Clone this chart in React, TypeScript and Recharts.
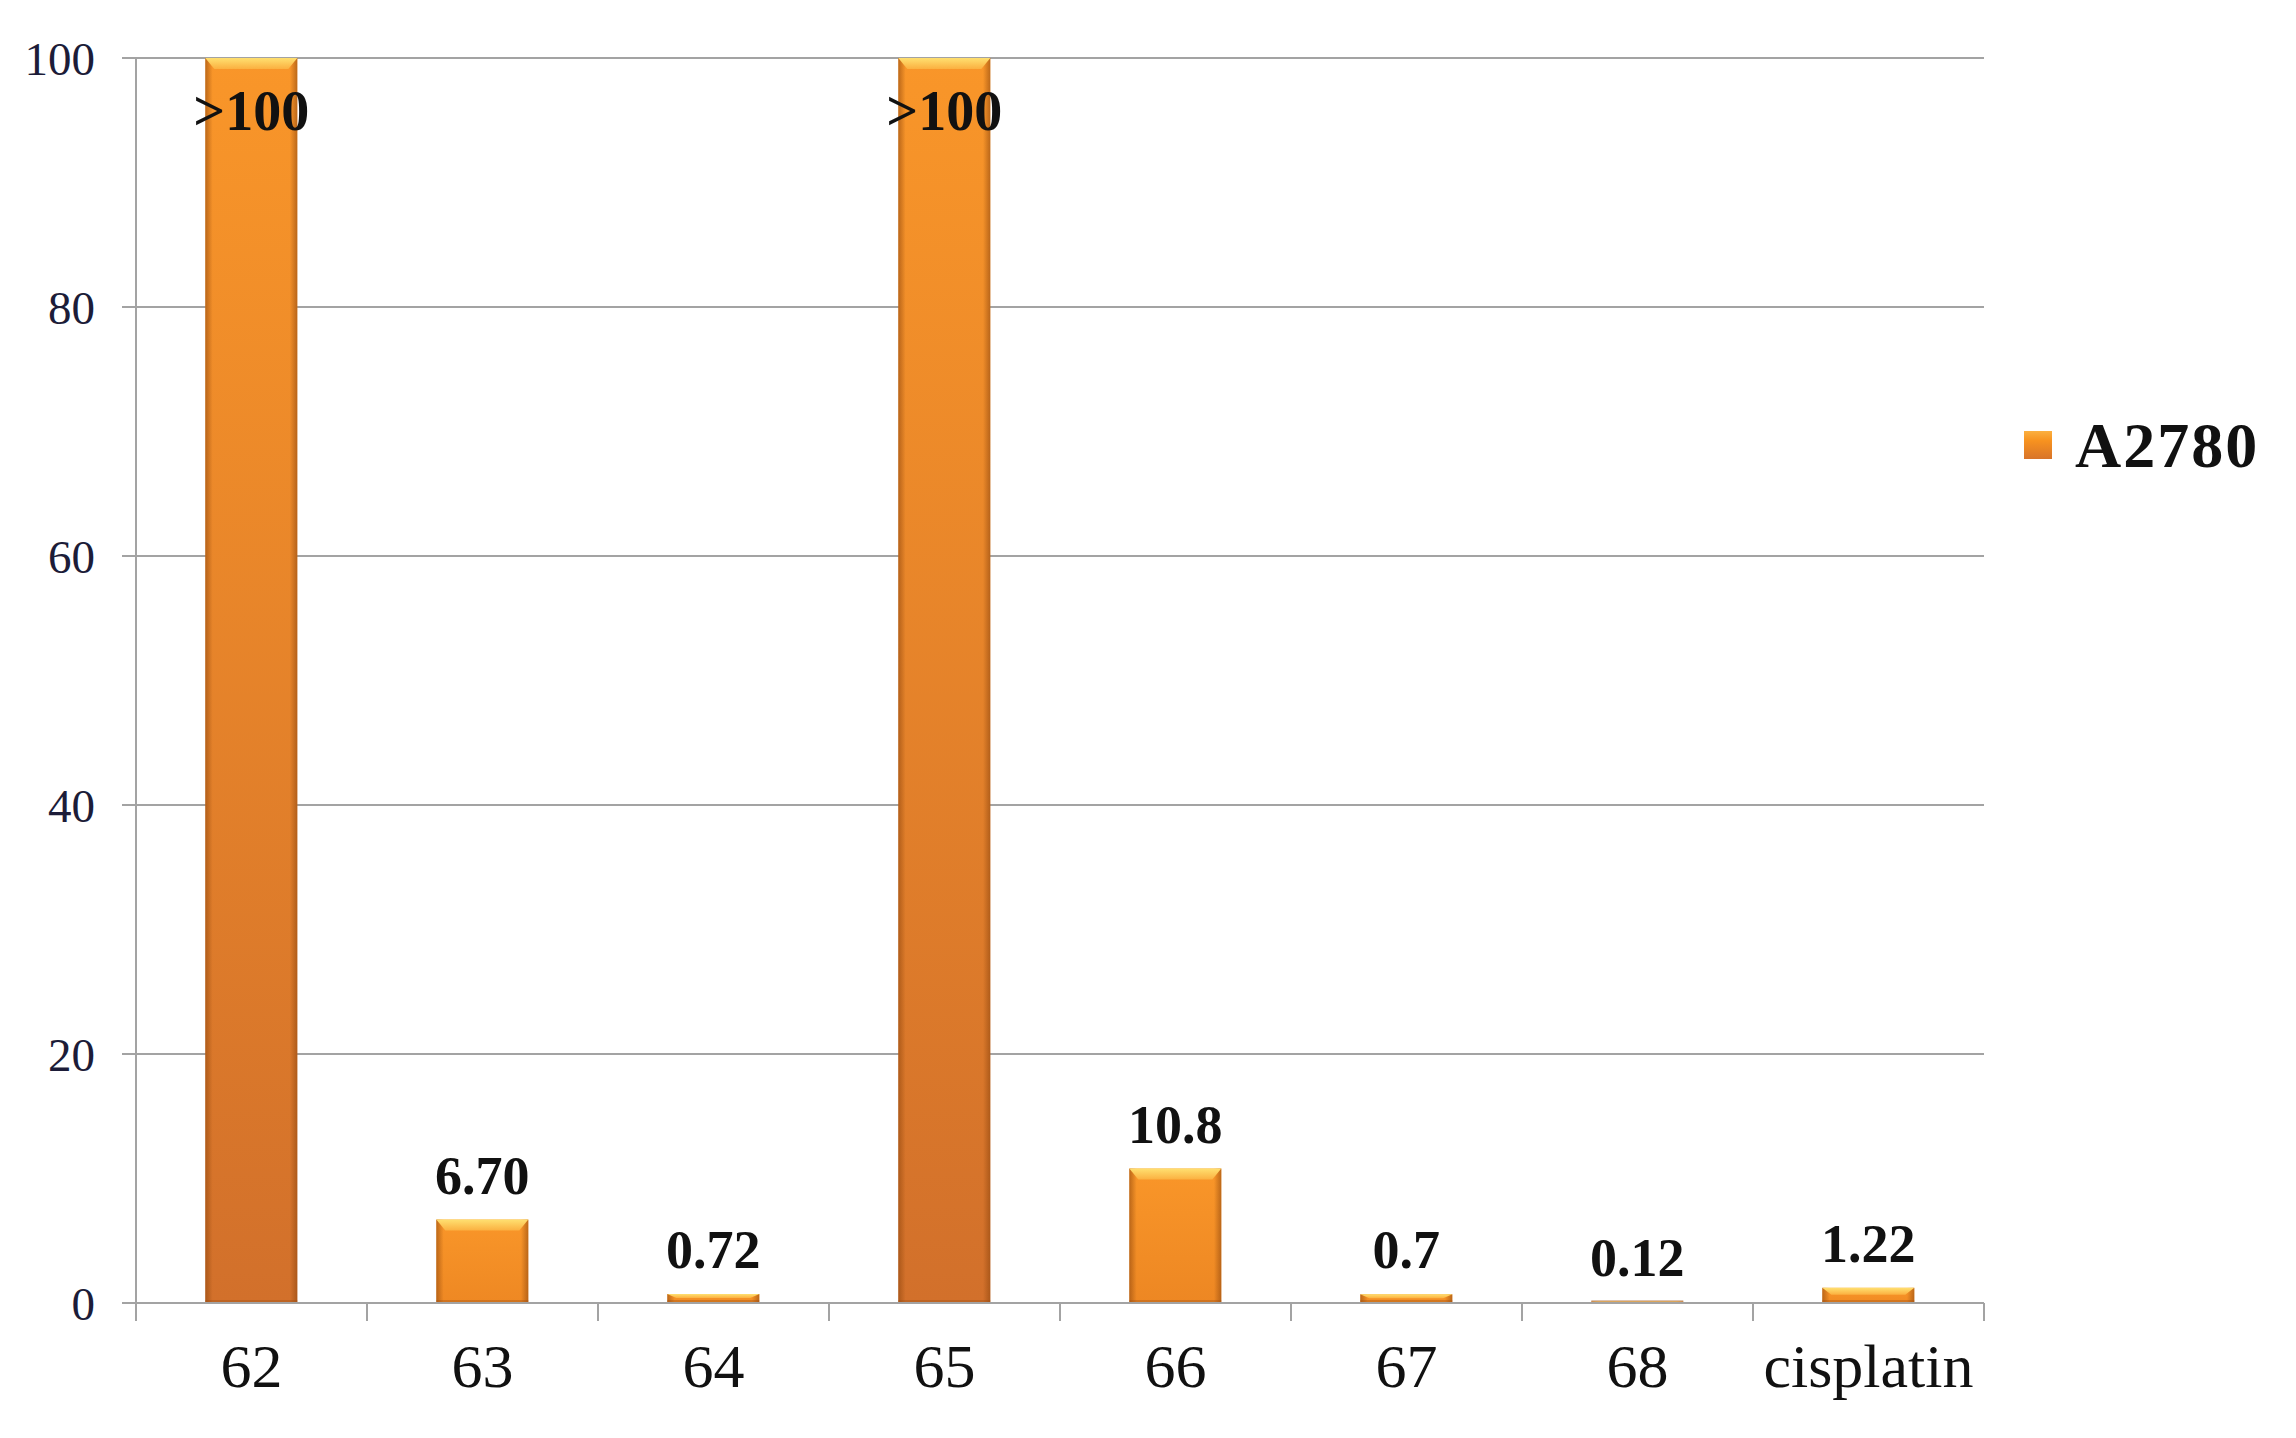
import { BarChart, Bar, XAxis, YAxis, CartesianGrid, Legend, LabelList } from 'recharts'

const categories = ['62', '63', '64', '65', '66', '67', '68', 'cisplatin']
const a2780 = [100, 6.7, 0.72, 100, 10.8, 0.7, 0.12, 1.22]
const valueLabels = ['>100', '6.70', '0.72', '>100', '10.8', '0.7', '0.12', '1.22']
const yTicks = [0, 20, 40, 60, 80, 100]

const data = categories.map((c, i) => ({ name: c, A2780: a2780[i], label: valueLabels[i] }))

const W = 2296
const H = 1438
const M = { top: 58, right: 312, left: 0, bottom: 35 }
const Y_AXIS_W = 136
const X_AXIS_H = 100
const PLOT_W = W - M.left - M.right - Y_AXIS_W
const PLOT_H = H - M.top - M.bottom - X_AXIS_H
const BAND = PLOT_W / categories.length

const SERIF = '"Liberation Serif", "Times New Roman", serif'
const AXIS = '#a3a3a3'

function mix(a: string, b: string, t: number) {
  const pa = [1, 3, 5].map((i) => parseInt(a.slice(i, i + 2), 16))
  const pb = [1, 3, 5].map((i) => parseInt(b.slice(i, i + 2), 16))
  return '#' + pa.map((v, i) => Math.round(v + (pb[i] - v) * t).toString(16).padStart(2, '0')).join('')
}

function GlossyBar(props: any) {
  const { x, y, width, height, index } = props
  if (!height || height <= 0) return null
  const t = Math.min(1, height / PLOT_H)
  const bottom = mix('#f08a22', '#d2702b', t)
  const bevel = Math.min(11, height * 0.45)
  const inset = Math.min(9, width * 0.1)
  const id = `bar-${index}`
  return (
    <g>
      <defs>
        <linearGradient id={`${id}-v`} x1="0" y1="0" x2="0" y2="1">
          <stop offset="0" stopColor="#f99629" />
          <stop offset="1" stopColor={bottom} />
        </linearGradient>
        <linearGradient id={`${id}-h`} x1="0" y1="0" x2="1" y2="0">
          <stop offset="0" stopColor="#8a430c" stopOpacity={0.55} />
          <stop offset="0.08" stopColor="#8a430c" stopOpacity={0} />
          <stop offset="0.92" stopColor="#8a430c" stopOpacity={0} />
          <stop offset="1" stopColor="#8a430c" stopOpacity={0.55} />
        </linearGradient>
        <linearGradient id={`${id}-t`} x1="0" y1="0" x2="0" y2="1">
          <stop offset="0" stopColor="#ffe070" />
          <stop offset="1" stopColor="#fbb040" />
        </linearGradient>
      </defs>
      <rect x={x} y={y} width={width} height={height} fill={`url(#${id}-v)`} />
      <rect x={x} y={y} width={width} height={height} fill={`url(#${id}-h)`} />
      <polygon
        points={`${x},${y} ${x + width},${y} ${x + width - inset},${y + bevel} ${x + inset},${y + bevel}`}
        fill={`url(#${id}-t)`}
      />
      <rect x={x} y={y + height - 3} width={width} height={3} fill="#9a4e14" opacity={0.35} />
    </g>
  )
}

function ValueLabel(props: any) {
  const { x, y, width, value } = props
  const inside = String(value).startsWith('>')
  return (
    <text
      x={x + width / 2}
      y={inside ? y + 72 : y - 26}
      textAnchor="middle"
      fontFamily={SERIF}
      fontWeight="bold"
      fontSize={inside ? 56 : 54}
      fill="#111"
    >
      {value}
    </text>
  )
}

function CategoryTick(props: any) {
  const { x, y, payload, index } = props
  const left = x - BAND / 2
  const last = index === categories.length - 1
  return (
    <g>
      <line x1={left} y1={y} x2={left} y2={y + 18} stroke={AXIS} strokeWidth={2} />
      {last && <line x1={x + BAND / 2} y1={y} x2={x + BAND / 2} y2={y + 18} stroke={AXIS} strokeWidth={2} />}
      <text x={x} y={y + 62} dy="0.35em" textAnchor="middle" fontFamily={SERIF} fontSize={62} fill="#111">
        {payload.value}
      </text>
    </g>
  )
}

function LegendBox() {
  return (
    <svg width={260} height={80}>
      <defs>
        <linearGradient id="leg-v" x1="0" y1="0" x2="0" y2="1">
          <stop offset="0" stopColor="#fbb040" />
          <stop offset="0.35" stopColor="#f7921f" />
          <stop offset="1" stopColor="#d8742a" />
        </linearGradient>
      </defs>
      <rect x={4} y={26} width={28} height={28} fill="url(#leg-v)" />
      <text x={55} y={40} dy="0.35em" fontFamily={SERIF} fontWeight="bold" fontSize={64} letterSpacing={2} fill="#111">
        A2780
      </text>
    </svg>
  )
}

export default function App() {
  return (
    <div style={{ width: W, height: H, background: '#fff' }}>
      <style>{`body{margin:0}`}</style>
      <BarChart width={W} height={H} data={data} margin={M} barCategoryGap="30%">
        <CartesianGrid vertical={false} stroke={AXIS} strokeWidth={2} />
        <XAxis
          dataKey="name"
          height={X_AXIS_H}
          axisLine={{ stroke: AXIS, strokeWidth: 2 }}
          tickLine={false}
          tickSize={0}
          tickMargin={0}
          interval={0}
          tick={<CategoryTick />}
        />
        <YAxis
          width={Y_AXIS_W}
          domain={[0, 100]}
          ticks={yTicks}
          axisLine={{ stroke: AXIS, strokeWidth: 2 }}
          tickLine={{ stroke: AXIS, strokeWidth: 2 }}
          tickSize={14}
          tickMargin={27}
          tick={{ fontFamily: SERIF, fontSize: 47, fill: '#1c1c38' }}
        />
        <Legend
          layout="horizontal"
          align="center"
          verticalAlign="middle"
          content={<LegendBox />}
          wrapperStyle={{ position: 'absolute', left: 2020, top: 405, width: 260 }}
        />
        <Bar dataKey="A2780" shape={<GlossyBar />} isAnimationActive={false}>
          <LabelList dataKey="label" content={<ValueLabel />} />
        </Bar>
      </BarChart>
    </div>
  )
}
